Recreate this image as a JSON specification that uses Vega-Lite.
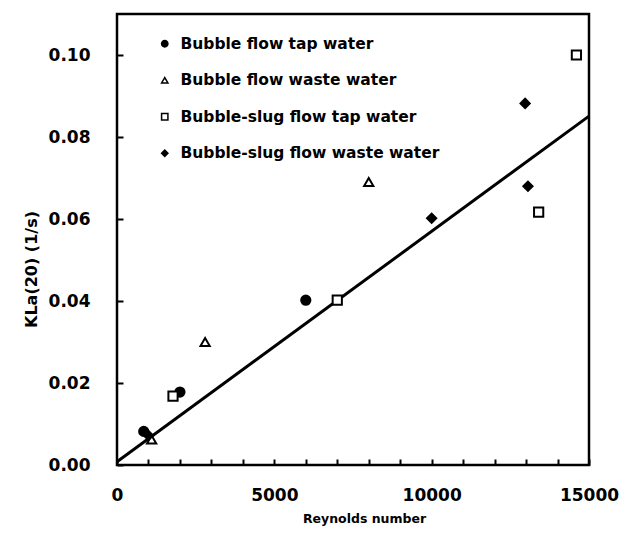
{
  "$schema": "https://vega.github.io/schema/vega-lite/v6.json",
  "width": 472,
  "height": 451,
  "autosize": {"type": "none"},
  "padding": {"left": 117, "top": 14, "right": 45, "bottom": 74},
  "background": "white",
  "config": {
    "view": {"stroke": "black", "strokeWidth": 2.5},
    "font": "DejaVu Sans",
    "axis": {"labelOverlap": false}
  },
  "datasets": {
    "points": [
      {"re": 850, "kla": 0.0082, "series": "Bubble flow tap water"},
      {"re": 6000, "kla": 0.0402, "series": "Bubble flow tap water"},
      {"re": 2000, "kla": 0.0178, "series": "Bubble flow tap water"},
      {"re": 1100, "kla": 0.0062, "series": "Bubble flow waste water"},
      {"re": 2800, "kla": 0.0300, "series": "Bubble flow waste water"},
      {"re": 8000, "kla": 0.0690, "series": "Bubble flow waste water"},
      {"re": 1780, "kla": 0.0168, "series": "Bubble-slug flow tap water"},
      {"re": 7000, "kla": 0.0402, "series": "Bubble-slug flow tap water"},
      {"re": 13400, "kla": 0.0617, "series": "Bubble-slug flow tap water"},
      {"re": 14600, "kla": 0.1000, "series": "Bubble-slug flow tap water"},
      {"re": 1000, "kla": 0.0072, "series": "Bubble-slug flow waste water"},
      {"re": 10000, "kla": 0.0602, "series": "Bubble-slug flow waste water"},
      {"re": 12970, "kla": 0.0882, "series": "Bubble-slug flow waste water"},
      {"re": 13060, "kla": 0.0680, "series": "Bubble-slug flow waste water"}
    ],
    "fit": [
      {"re": 0, "kla": 0.0008},
      {"re": 15000, "kla": 0.0851}
    ]
  },
  "encoding": {
    "x": {
      "field": "re", "type": "quantitative",
      "scale": {"domain": [0, 15000], "nice": false},
      "axis": {
        "title": "Reynolds number",
        "titleFontSize": 12.5, "titleFontWeight": "bold", "titlePadding": 9,
        "titleX": 247,
        "values": [0,1000,2000,3000,4000,5000,6000,7000,8000,9000,10000,11000,12000,13000,14000,15000],
        "labelExpr": "datum.value % 5000 == 0 ? format(datum.value, 'd') : ''",
        "labelOverlap": false, "labelBound": false, "labelFlush": false,
        "labelFontSize": 17, "labelFontWeight": "bold", "labelColor": "black",
        "labelPadding": 22,
        "offset": -6,
        "ticks": true, "tickSize": 6, "tickColor": "black", "tickWidth": 2,
        "zindex": 1,
        "domain": false, "grid": false, "titleColor": "black"
      }
    },
    "y": {
      "field": "kla", "type": "quantitative",
      "scale": {"domain": [0, 0.11], "nice": false},
      "axis": {
        "title": "KLa(20) (1/s)",
        "titleFontSize": 16, "titleFontWeight": "bold", "titlePadding": 9,
        "titleY": 255, "titleColor": "black",
        "values": [0, 0.02, 0.04, 0.06, 0.08, 0.1],
        "format": ".2f",
        "labelFontSize": 17, "labelFontWeight": "bold", "labelColor": "black",
        "labelPadding": 27, "labelOverlap": false,
        "offset": -6,
        "ticks": true, "tickSize": 6, "tickColor": "black", "tickWidth": 2,
        "zindex": 1,
        "domain": false, "grid": false
      }
    }
  },
  "layer": [
    {
      "data": {"name": "fit"},
      "mark": {"type": "line", "color": "black", "strokeWidth": 3}
    },
    {
      "data": {"name": "points"},
      "mark": {"type": "point", "filled": true, "stroke": "black", "strokeWidth": 2, "size": 85, "opacity": 1},
      "encoding": {
        "shape": {
          "field": "series", "type": "nominal",
          "scale": {
            "domain": ["Bubble flow tap water", "Bubble flow waste water", "Bubble-slug flow tap water", "Bubble-slug flow waste water"],
            "range": ["circle", "triangle-up", "square", "diamond"]
          },
          "legend": {
            "title": null, "orient": "none", "legendX": 40, "legendY": 22,
            "labelFontSize": 15.5, "labelFontWeight": "bold", "labelColor": "black",
            "labelLimit": 0,
            "symbolSize": 40, "rowPadding": 19.5, "labelOffset": 8,
            "encode": {"symbols": {"update": {"stroke": {"value": "black"}, "strokeWidth": {"value": 1.5}}}}
          }
        },
        "fill": {
          "field": "series", "type": "nominal",
          "scale": {
            "domain": ["Bubble flow tap water", "Bubble flow waste water", "Bubble-slug flow tap water", "Bubble-slug flow waste water"],
            "range": ["black", "white", "white", "black"]
          },
          "legend": null
        }
      }
    }
  ]
}
